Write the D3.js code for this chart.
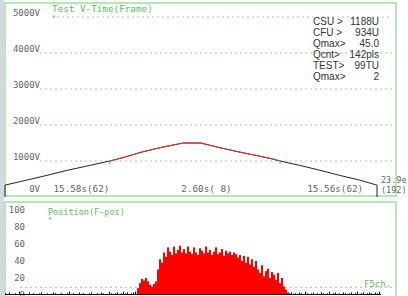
<!DOCTYPE html>
<html>
<head>
<meta charset="utf-8">
<script src="https://cdn.jsdelivr.net/npm/d3@7/dist/d3.min.js"></script>
<style>
  body { margin: 0; background: #fff; }
  text { font-family: "DejaVu Sans Mono", monospace; }
</style>
</head>
<body>
<svg id="chart" width="408" height="296"></svg>
<script>
// top panel: voltage against frame
var frames = [0, 0, 8, 20, 32, 44, 54, 62, 70, 80, 92, 101, 110, 120, 130, 137, 142, 152, 162, 172, 183, 192, 192];
var volts  = [0, 330, 430, 580, 740, 880, 1000, 1110, 1240, 1370, 1500, 1500, 1380, 1260, 1150, 1070, 1000, 880, 750, 610, 470, 330, 0];
var redSpan = [54, 142];
var voltTicks = [5000, 4000, 3000, 2000, 1000];
var voltLabels = ["5000V", "4000V", "3000V", "2000V", "1000V", "0V"];
var timeLabels = ["15.58s(62)", "2.60s( 8)", "15.56s(62)"];
var timeLabelFrames = [25, 91, 156];
var infoKeys = ["CSU >", "CFU >", "Qmax>", "Qcnt>", "TEST>", "Qmax>"];
var infoVals = ["1188U", "934U", "45.0", "142pls", "99TU", "2"];

// bottom panel: position histogram
var posCounts = [
  2,1,3,1,0,2,1,4,1,2, 0,1,3,1,2,1,0,2,3,1, 1,2,0,1,3,2,1,1,2,0,
  1,2,4,1,2,1,0,3,1,2, 1,1,2,3,1,0,2,1,3,2, 1,1,4,2,1,2,3,1,2,4,
  2,3,1,2,3,4,
  8,14,19,17,20,16,12, 10,13,16, 30,42,38,
  50,45,56,51,47,57,49,53,58,50,
  54,49,57,51,48,56,50,47,55,52,49,57,50,53,47,51,56,48,50,54,46,52,49,51,47,50,48,
  44,47,40,46,38,45,36,42,33,40,
  30,26,35,22,28,31,20,27,24,18,26,14,20,10,6,3,
  2,3,1,2,1,3,2,1,4,2, 1,2,3,1,2,1,3,2,1,2, 4,1,2,3,1,2,1,3,2,1,
  2,3,1,2,4,1,2,3,1,2, 3,2,1,3,2,4,0,0
];
var redBins = [66, 141];
var countTicks = [100, 80, 60, 40, 20, 0];
var limitCount = 9;

var svg = d3.select("#chart");
var green = "#9edf9e";
var grid = "#9fcf9f";
var labelCol = "#666";

svg.append("rect").attr("x", 0).attr("y", 0).attr("width", 4).attr("height", 296).attr("fill", "#d3d9df");

// ---------- top panel ----------
var x1 = d3.scaleLinear().domain([0, 192]).range([5, 377]);
var y1 = d3.scaleLinear().domain([0, 5000]).range([197, 17]);

svg.append("rect")
  .attr("x", 5).attr("y", 3).attr("width", 391).attr("height", 193)
  .attr("fill", "none").attr("stroke", green).attr("stroke-width", 1.5);

svg.selectAll(".vgrid").data(voltTicks).enter().append("line")
  .attr("class", "vgrid")
  .attr("x1", function(d) { return d == 5000 ? 52 : 40; })
  .attr("x2", 392)
  .attr("y1", function(d) { return y1(d); })
  .attr("y2", function(d) { return y1(d); })
  .attr("stroke", grid).attr("stroke-width", 1)
  .attr("stroke-dasharray", "2,3");

svg.selectAll(".vlab").data(voltLabels).enter().append("text")
  .attr("class", "vlab")
  .attr("x", 40)
  .attr("y", function(d, i) { return i < 5 ? y1(voltTicks[i]) - 1 : 192; })
  .attr("text-anchor", "end")
  .attr("font-size", 9)
  .attr("fill", labelCol)
  .text(function(d) { return d; });

svg.append("text").attr("x", 52).attr("y", 12)
  .attr("font-size", 9.3).attr("fill", "#5cc05c").text("Test V-Time(Frame)");
svg.append("text").attr("x", 52).attr("y", 20)
  .attr("font-size", 7).attr("fill", "#5cc05c").text("*");

var pts = frames.map(function(f, i) { return [f, volts[i]]; });
var line = d3.line()
  .x(function(d) { return x1(d[0]); })
  .y(function(d) { return y1(d[1]); });

svg.append("path").datum(pts)
  .attr("d", line).attr("fill", "none")
  .attr("stroke", "#222").attr("stroke-width", 1);

svg.append("path")
  .datum(pts.filter(function(d) { return d[0] >= redSpan[0] && d[0] <= redSpan[1] && d[1] > 0; }))
  .attr("d", line).attr("fill", "none")
  .attr("stroke", "#e8302c").attr("stroke-width", 1);

// crossing markers
svg.selectAll(".mark").data(redSpan).enter().append("line")
  .attr("class", "mark")
  .attr("x1", function(d) { return x1(d); })
  .attr("x2", function(d) { return x1(d); })
  .attr("y1", y1(1000) - 1).attr("y2", y1(1000) + 3)
  .attr("stroke", "#4c4").attr("stroke-width", 1);

svg.selectAll(".tlab").data(timeLabels).enter().append("text")
  .attr("class", "tlab")
  .attr("x", function(d, i) { return x1(timeLabelFrames[i]); })
  .attr("y", 192)
  .attr("font-size", 9.3).attr("fill", labelCol)
  .text(function(d) { return d; });

svg.append("text").attr("x", 381).attr("y", 183)
  .attr("font-size", 8.5).attr("fill", labelCol).text("23.9e");
svg.append("text").attr("x", 381).attr("y", 193)
  .attr("font-size", 8.5).attr("fill", labelCol).text("(192)");

// info block
var info = svg.append("g").attr("font-size", 10).attr("fill", "#333");
info.selectAll(".ik").data(infoKeys).enter().append("text")
  .attr("x", 313).attr("y", function(d, i) { return 25 + i * 11; })
  .style("font-family", "'Liberation Sans', Arial, sans-serif")
  .text(function(d) { return d; });
info.selectAll(".iv").data(infoVals).enter().append("text")
  .attr("x", 379).attr("y", function(d, i) { return 25 + i * 11; })
  .attr("text-anchor", "end")
  .style("font-family", "'Liberation Sans', Arial, sans-serif")
  .text(function(d) { return d; });

// ---------- bottom panel ----------
var x2 = d3.scaleLinear().domain([0, 190]).range([5, 385]);
var y2 = d3.scaleLinear().domain([0, 100]).range([295, 210]);

svg.append("rect")
  .attr("x", 5).attr("y", 202).attr("width", 391).attr("height", 100)
  .attr("fill", "none").attr("stroke", green).attr("stroke-width", 1.5);

svg.append("line")
  .attr("x1", 20).attr("x2", 392)
  .attr("y1", y2(limitCount)).attr("y2", y2(limitCount))
  .attr("stroke", grid).attr("stroke-dasharray", "2,3");

svg.selectAll(".clab").data(countTicks).enter().append("text")
  .attr("class", "clab")
  .attr("x", 25).attr("y", function(d) { return y2(d) + 3; })
  .attr("text-anchor", "end")
  .attr("font-size", 9).attr("fill", labelCol)
  .text(function(d) { return d; });

svg.append("text").attr("x", 48).attr("y", 215)
  .attr("font-size", 8.5).attr("fill", "#5cc05c").text("Position(F-pos)");
svg.append("text").attr("x", 48).attr("y", 222)
  .attr("font-size", 7).attr("fill", "#5cc05c").text("*");

svg.selectAll(".bin").data(posCounts).enter().append("rect")
  .attr("class", "bin")
  .attr("x", function(d, i) { return x2(i); })
  .attr("width", function(d, i) { return i >= redBins[0] && i <= redBins[1] ? 2 : 1; })
  .attr("y", function(d) { return y2(d); })
  .attr("height", function(d) { return y2(0) - y2(d); })
  .attr("fill", function(d, i) { return i >= redBins[0] && i <= redBins[1] ? "#f00" : "#111"; });

svg.append("line")
  .attr("x1", x2(0)).attr("x2", x2(188))
  .attr("y1", 294.5).attr("y2", 294.5)
  .attr("stroke", "#111").attr("stroke-width", 1);

svg.append("text").attr("x", 364).attr("y", 287)
  .attr("font-size", 9).attr("fill", "#5cc05c").text("F5ch.");
</script>
</body>
</html>
